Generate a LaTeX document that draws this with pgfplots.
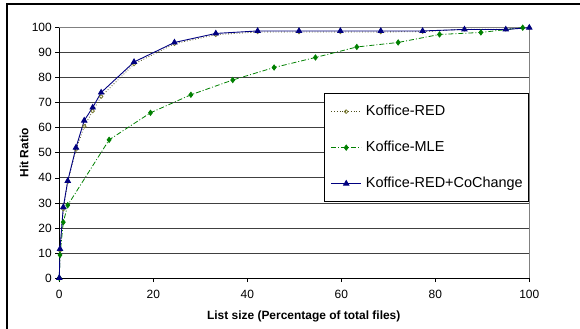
\documentclass[border=0pt]{standalone}
\usepackage{pgfplots}
\pgfplotsset{compat=1.18}
\usepackage{fontspec}
\setmainfont{Liberation Sans}
\definecolor{redc}{HTML}{4D4D1A}
\definecolor{redm}{HTML}{7A7A30}
\definecolor{mlec}{HTML}{008000}
\definecolor{coc}{HTML}{000080}
\begin{document}
\begin{tikzpicture}
\begin{axis}[
 at={(59.3bp,51bp)}, anchor=south west,
 scale only axis, width=470bp, height=250.3bp,
 xmin=0,xmax=100,ymin=0,ymax=100,
 xtick={0,20,...,100}, ytick={0,10,...,100},
 axis x line*=bottom, axis y line*=left,
 axis line style={black, line width=0.9bp, -},
 tick align=outside, major tick length=4bp, tick style={black, line width=0.7bp},
 ymajorgrids, grid style={draw=black!75, line width=0.8bp},
 every tick label/.append style={font=\fontsize{12}{14}\selectfont},
 xticklabel style={yshift=-5bp},
 /pgf/number format/assume math mode=true,
 xlabel={List size (Percentage of total files)},
 ylabel={Hit Ratio},
 label style={font=\bfseries\fontsize{12}{14}\selectfont},
 xlabel style={at={(axis description cs:0.52,-0.152)}, anchor=center},
 ylabel style={at={(axis description cs:-0.0751,0.5)}, anchor=center},
 clip=false,
 legend style={at={(axis cs:56.4,73.9)}, anchor=north west, draw=black, line width=0.8bp,
   font=\fontsize{14.5}{16}\selectfont, inner xsep=6bp, inner ysep=11.7bp,
   row sep=23bp, column sep=4.3bp,
   nodes={inner sep=0pt, text height=10bp, text depth=3bp}},
 legend cell align=left,
 legend image code/.code={\draw[mark repeat=2, mark phase=2] plot coordinates {(0bp,0bp) (15bp,0bp) (30bp,0bp)};},
]
\draw[gray, line width=0.8bp] (rel axis cs:0,1) -| (rel axis cs:1,0);
\addplot[color=redc, dotted, line width=0.8bp, mark=o, mark size=1.8bp, mark options={solid, draw=redm, fill=white}] coordinates {
(0,0) (0.15,11) (0.85,27.5) (1.8,38.5) (3.55,51.3) (5.3,60.6) (7.1,66.7) (8.9,72.5)
(15.9,85.5) (24.5,93.6) (33.3,97.2) (42.2,98.3) (51,98.3) (59.8,98.3) (68.4,98.3)
(77.3,98.4) (86.2,99.4) (95,99.4) (100,100)};
\addlegendentry{Koffice-RED}
\addplot[color=mlec, dash pattern=on 5bp off 2bp on 1bp off 2bp, line width=0.8bp, mark=diamond*, mark size=2.6bp, mark options={solid}] coordinates {
(0,0) (0.15,9.2) (0.85,22.3) (1.8,29.1) (10.6,55.2) (19.4,66) (28,73.2) (36.9,79.1)
(45.7,84.1) (54.5,88.1) (63.3,92.3) (72.1,94.1) (80.9,97.3) (89.7,98.1) (98.6,100)};
\addlegendentry{Koffice-MLE}
\addplot[color=coc, line width=0.9bp, mark=triangle*, mark size=3bp] coordinates {
(0,0) (0.15,11.6) (0.85,28.3) (1.8,38.8) (3.55,52.1) (5.3,62.9) (7.1,68.1) (8.9,74.1)
(15.9,86.3) (24.5,94.1) (33.3,97.7) (42.2,98.7) (51,98.7) (59.8,98.7) (68.4,98.7)
(77.3,98.7) (86.2,99.3) (95,99.3) (100,100)};
\addlegendentry{Koffice-RED+CoChange}
\end{axis}
\draw[line width=1.2bp] (7bp,-10bp) |- (600bp,325bp);
\pgfresetboundingbox
\useasboundingbox (0,0) rectangle (580bp,329bp);
\end{tikzpicture}
\end{document}
